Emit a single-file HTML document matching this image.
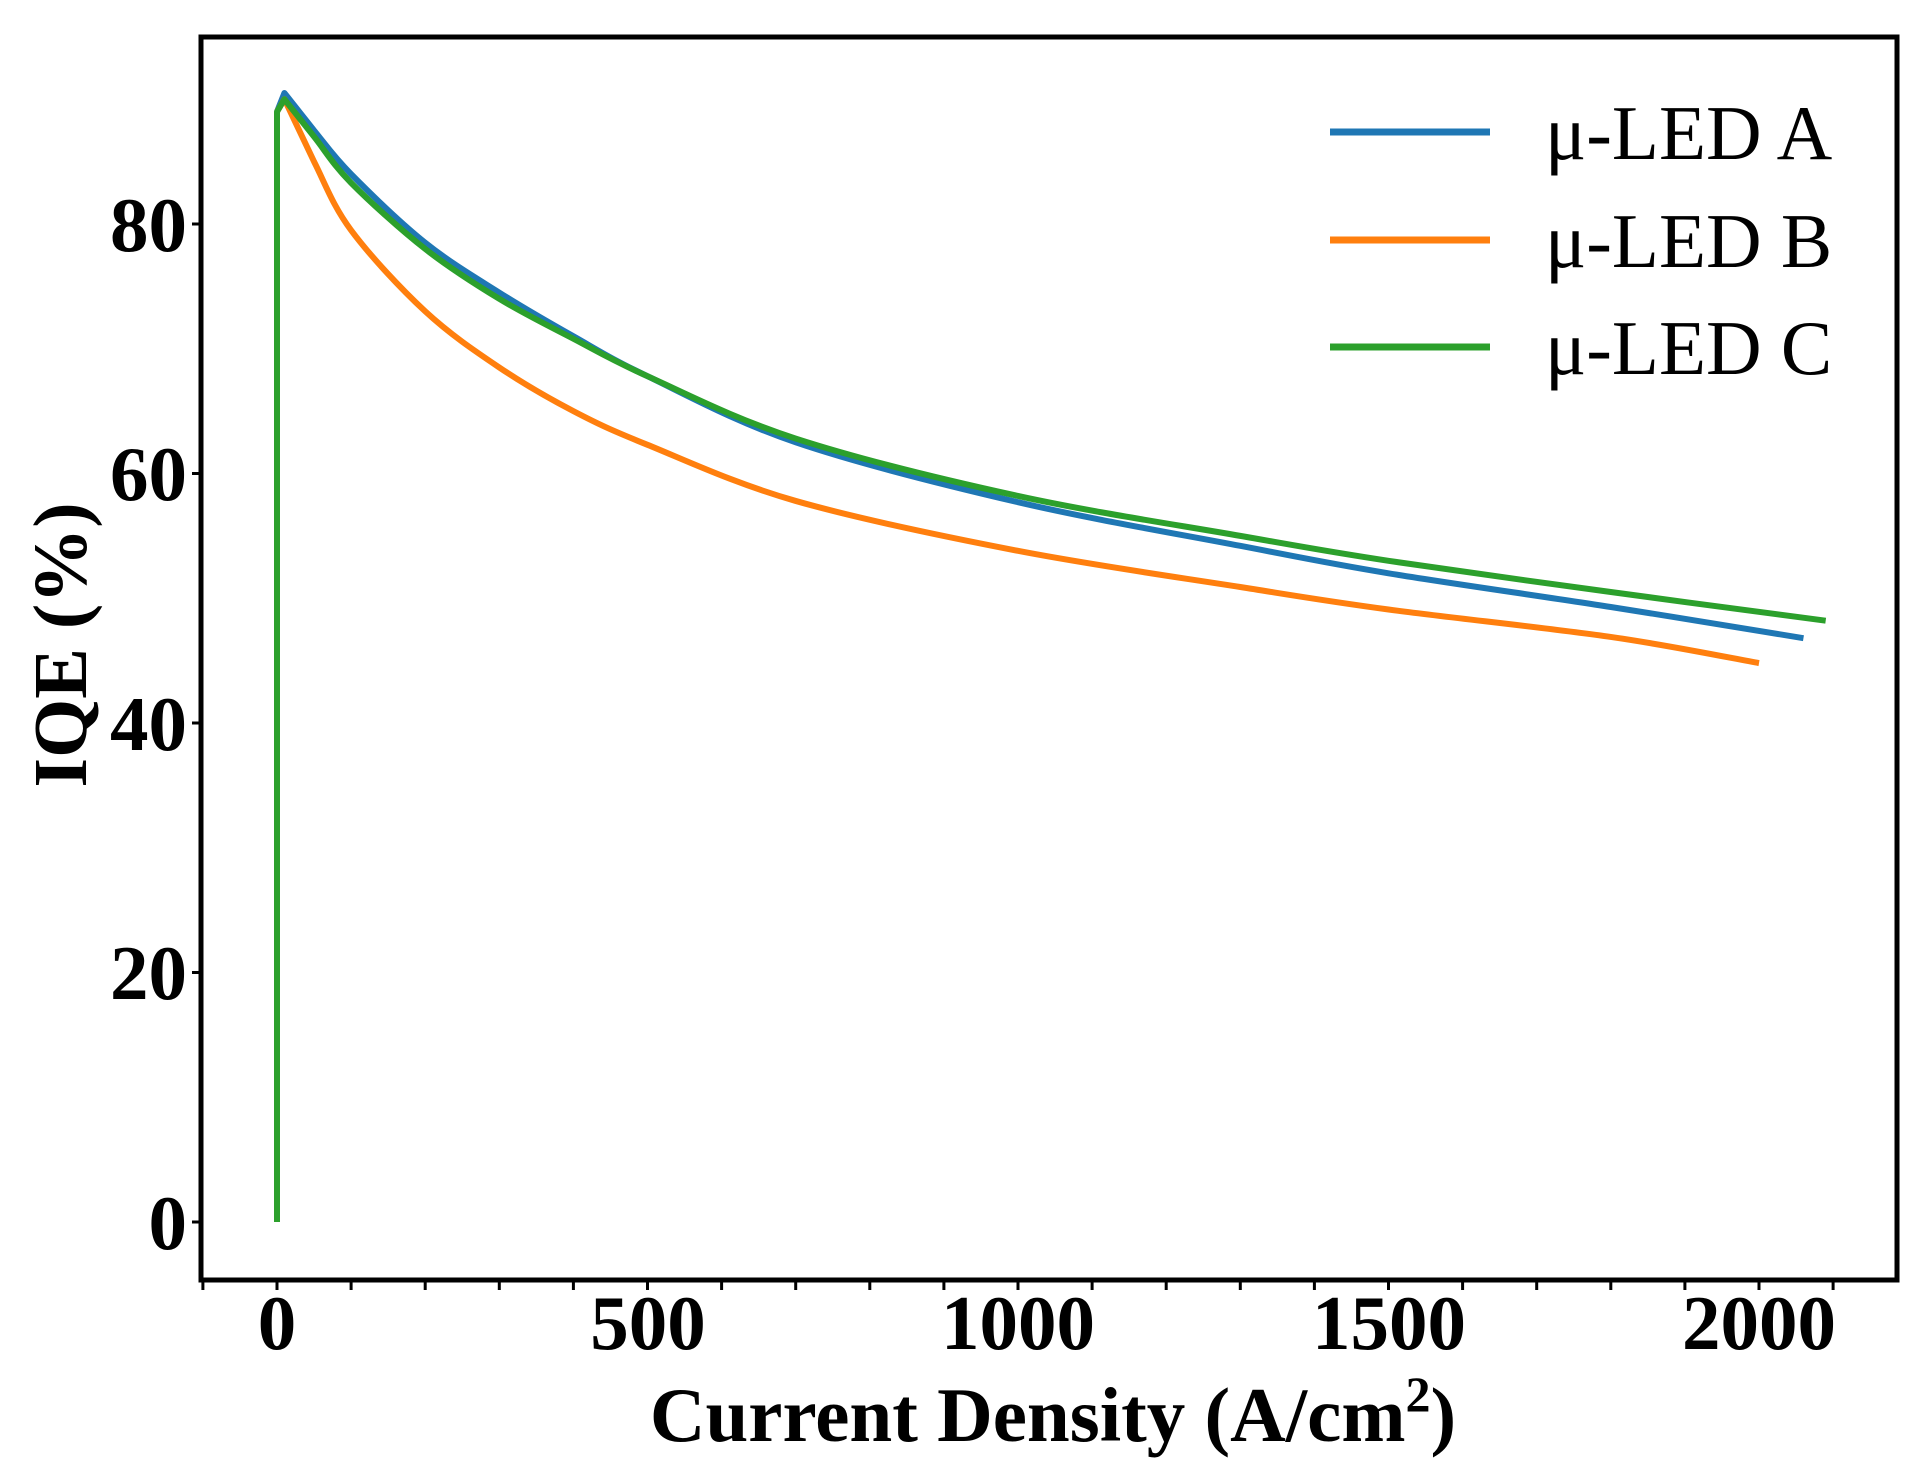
<!DOCTYPE html>
<html><head><meta charset="utf-8"><style>
body{margin:0;background:#fff;}
svg{display:block;font-family:"Liberation Serif",serif;}
</style></head><body>
<svg id="s" width="1931" height="1479" xmlns="http://www.w3.org/2000/svg">
<rect width="1931" height="1479" fill="#fff"/>
<g id="ticks" stroke="#000" stroke-width="3"></g>
<g font-size="77" font-weight="bold" text-anchor="end">
<text x="187" y="1249">0</text>
<text x="187" y="999">20</text>
<text x="187" y="750">40</text>
<text x="187" y="500">60</text>
<text x="187" y="251">80</text>
</g>
<g font-size="77" font-weight="bold" text-anchor="middle">
<text x="277" y="1349">0</text>
<text x="648" y="1349">500</text>
<text x="1018" y="1349">1000</text>
<text x="1389" y="1349">1500</text>
<text x="1759" y="1349">2000</text>
</g>
<text x="1053" y="1441" font-size="77" font-weight="bold" text-anchor="middle">Current Density (A/cm<tspan dy="-30" font-size="50">2</tspan><tspan dy="30">)</tspan></text>
<text transform="translate(86,645) rotate(-90)" font-size="76" font-weight="bold" text-anchor="middle">IQE (%)</text>
<g id="curves" fill="none" stroke-width="6" stroke-linejoin="round"></g>
<g stroke-width="7">
<line x1="1330" y1="132" x2="1490" y2="132" stroke="#1f77b4"/>
<line x1="1330" y1="240" x2="1490" y2="240" stroke="#ff7f0e"/>
<line x1="1330" y1="347" x2="1490" y2="347" stroke="#2ca02c"/>
</g>
<g font-size="77">
<text x="1545" y="159">μ-LED A</text>
<text x="1545" y="267">μ-LED B</text>
<text x="1545" y="374">μ-LED C</text>
</g>
<rect x="201" y="37" width="1696" height="1243" fill="none" stroke="#000" stroke-width="5"/>
</svg>
<script>
var NS="http://www.w3.org/2000/svg";
function X(j){return 277+j*0.741;}
function Y(v){return 1222-v*12.475;}
var t=document.getElementById("ticks");
for(var v=0;v<=80;v+=20){var l=document.createElementNS(NS,"line");l.setAttribute("x1",192);l.setAttribute("x2",201);l.setAttribute("y1",Y(v));l.setAttribute("y2",Y(v));t.appendChild(l);}
for(var j=-100;j<=2200;j+=100){var x=X(j);if(x<200||x>1898)continue;var l=document.createElementNS(NS,"line");l.setAttribute("x1",x);l.setAttribute("x2",x);l.setAttribute("y1",1280);l.setAttribute("y2",1290);t.appendChild(l);}
var data={
"#1f77b4":[[0,89],[10,90.5],[50,87.5],[100,84],[200,78.5],[300,74.5],[400,71],[500,67.8],[700,62.5],[1000,57.7],[1300,54.2],[1500,52],[1800,49.3],[2060,46.8]],
"#ff7f0e":[[0,89],[10,90],[50,85],[100,79.5],[200,73],[300,68.5],[400,65],[500,62.3],[700,57.8],[1000,53.8],[1300,50.9],[1500,49.1],[1800,46.9],[2000,44.8]],
"#2ca02c":[[0,0],[0,89],[10,90],[50,87],[100,83.3],[200,78],[300,74],[400,70.8],[500,67.8],[700,62.8],[1000,58.2],[1300,55],[1500,53],[1800,50.5],[2090,48.2]]};
var g=document.getElementById("curves");
for(var c in data){var raw=data[c];var p=raw.map(function(a){return [X(a[0]),Y(a[1])];});
var d="M"+p[0][0]+","+p[0][1];
for(var i=0;i<p.length-1;i++){var p0=p[Math.max(i-1,0)],p1=p[i],p2=p[i+1],p3=p[Math.min(i+2,p.length-1)];
if(raw[i+1][0]<=10||raw[i][0]<=10){d+=" L"+p2[0]+","+p2[1];continue;}
var c1=[p1[0]+(p2[0]-p0[0])/6,p1[1]+(p2[1]-p0[1])/6],c2=[p2[0]-(p3[0]-p1[0])/6,p2[1]-(p3[1]-p1[1])/6];
d+=" C"+c1+" "+c2+" "+p2;}
var e=document.createElementNS(NS,"path");e.setAttribute("d",d);e.setAttribute("stroke",c);g.appendChild(e);}
</script>
</body></html>
